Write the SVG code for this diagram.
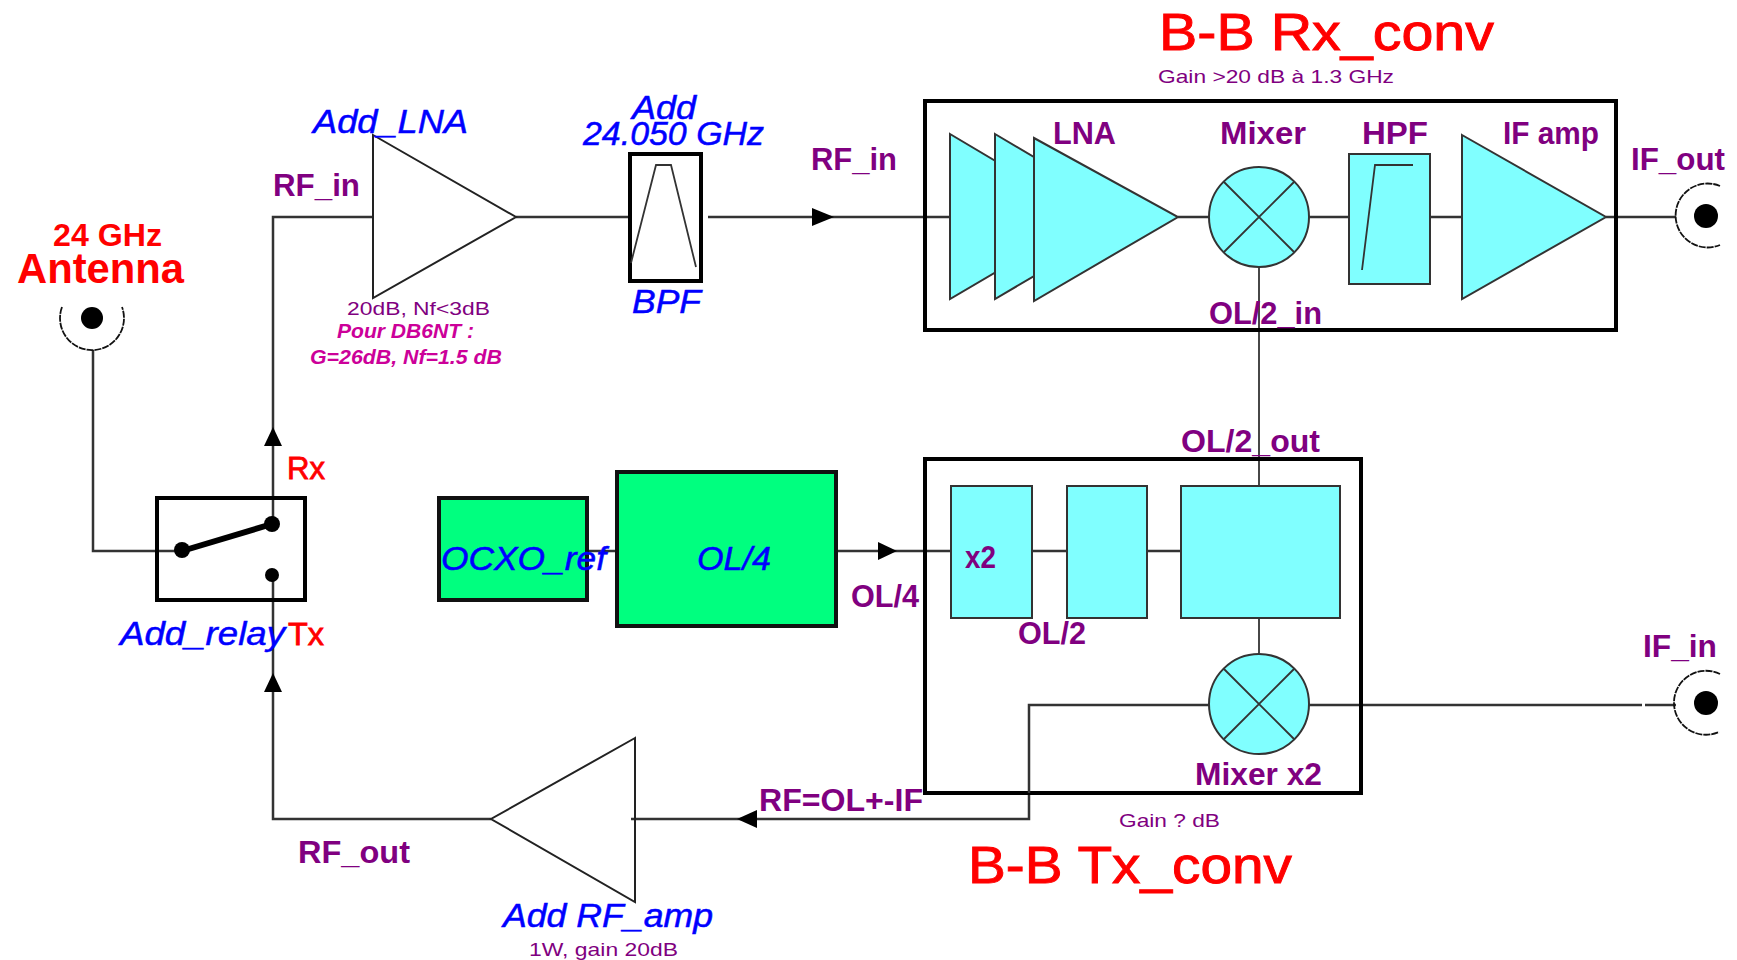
<svg xmlns="http://www.w3.org/2000/svg" width="1737" height="960" viewBox="0 0 1737 960">
<style>
text{font-family:"Liberation Sans",Arial,sans-serif;white-space:pre}
.p{fill:#800080;font-size:31px;font-weight:bold}
.s{fill:#800080;font-size:19px}
.b{fill:#0000ff;font-size:34px;font-style:italic;stroke:#0000ff;stroke-width:.5}
.r{fill:#ff0000;font-weight:bold}
.h{fill:#ff0000;stroke:#ff0000;stroke-width:.9;font-size:52px}
.m{fill:#ff0000;stroke:#ff0000;stroke-width:.8;font-size:31px}
.k{fill:#cc0099;font-size:21px;font-weight:bold;font-style:italic}
.w{fill:none;stroke:#333;stroke-width:2.5}
.t{fill:none;stroke:#333;stroke-width:1.8}
.c{fill:#80ffff;stroke:#333;stroke-width:2}
.n{fill:none;stroke:#222;stroke-width:2}
.box{fill:none;stroke:#000;stroke-width:4}
.g{fill:#00ff7f;stroke:#111;stroke-width:4}
.d{fill:#000;stroke:none}
.a{fill:none;stroke:#111;stroke-width:1.8;stroke-dasharray:7 1}
</style>
<rect width="1737" height="960" fill="#fff"/>
<g id="connectors">
<path class="w" d="M93 350V551H182"/>
<path class="w" d="M273 524V217H373"/>
<path class="w" d="M273 575V819H491"/>
<path class="w" d="M516 217H629"/>
<path class="w" d="M708 217H950"/>
<path class="w" d="M1178 217H1209M1309 217H1349M1430 217H1462M1606 217H1676"/>
<path class="t" d="M1259 267V485"/>
<path class="w" d="M587 551H617"/>
<path class="w" d="M836 551H951"/>
<path class="w" d="M1030 551H1067M1147 551H1181"/>
<path class="t" d="M1259 616V653"/>
<path class="w" d="M1029 793V819H631"/>
<path class="w" d="M1309 705H1642M1645 705H1676"/>
<polygon class="d" points="273,427 282,446 264,446"/>
<polygon class="d" points="273,673 282,692 264,692"/>
<polygon class="d" points="834,217 812,208 812,226"/>
<polygon class="d" points="897,551 878,542 878,560"/>
<polygon class="d" points="737,819 757,810 757,828"/>
</g>
<g id="antenna">
<path class="a" d="M62 307A32 32 0 1 0 122 307"/>
<circle class="d" cx="92" cy="318" r="11"/>
<text class="r" style="font-size:32px" x="53" y="246" textLength="109" lengthAdjust="spacingAndGlyphs">24 GHz</text>
<text class="r" style="font-size:42px" x="17" y="283" textLength="167" lengthAdjust="spacingAndGlyphs">Antenna</text>
</g>
<g id="relay">
<rect class="box" x="157" y="498" width="148" height="102"/>
<path d="M182 551L272 524" fill="none" stroke="#000" stroke-width="6"/>
<circle class="d" cx="182" cy="550" r="8"/>
<circle class="d" cx="272" cy="524" r="8"/>
<circle class="d" cx="272" cy="575" r="7"/>
<text class="b" x="120" y="645" textLength="165" lengthAdjust="spacingAndGlyphs">Add_relay</text>
<text class="m" x="287" y="479" textLength="38" lengthAdjust="spacingAndGlyphs">Rx</text>
<text class="m" x="288" y="645" textLength="36" lengthAdjust="spacingAndGlyphs">Tx</text>
</g>
<g id="add-lna">
<polygon class="n" points="373,135 516,217 373,298"/>
<text class="b" x="313" y="133" textLength="155" lengthAdjust="spacingAndGlyphs">Add_LNA</text>
<text class="s" x="347" y="315" textLength="143" lengthAdjust="spacingAndGlyphs">20dB, Nf&lt;3dB</text>
<text class="k" x="337" y="338" textLength="137" lengthAdjust="spacingAndGlyphs">Pour DB6NT :</text>
<text class="k" x="310" y="364" textLength="192" lengthAdjust="spacingAndGlyphs">G=26dB, Nf=1.5 dB</text>
</g>
<g id="bpf">
<rect class="box" x="630" y="154" width="71" height="127"/>
<path class="t" d="M631 263L656 165H671L696 267"/>
<text class="b" x="632" y="119" textLength="64" lengthAdjust="spacingAndGlyphs">Add</text>
<text class="b" x="583" y="145" textLength="181" lengthAdjust="spacingAndGlyphs">24.050 GHz</text>
<text class="b" x="632" y="313" textLength="69" lengthAdjust="spacingAndGlyphs">BPF</text>
</g>
<g id="rx-conv">
<rect class="box" x="925" y="101" width="691" height="229"/>
<polygon class="c" points="950,134 1090,217 950,299"/>
<polygon class="c" points="995,134 1135,217 995,299"/>
<polygon class="c" points="1034,138 1178,217 1034,301"/>
<circle class="c" cx="1259" cy="217" r="50"/>
<path class="t" d="M1224 182L1294 252M1294 182L1224 252"/>
<rect class="c" x="1349" y="154" width="81" height="130"/>
<path class="t" d="M1362 270L1375 165H1413"/>
<polygon class="c" points="1462,135 1606,217 1462,299"/>
<text class="p" x="1053" y="144" textLength="63" lengthAdjust="spacingAndGlyphs">LNA</text>
<text class="p" x="1220" y="144" textLength="86" lengthAdjust="spacingAndGlyphs">Mixer</text>
<text class="p" x="1362" y="144" textLength="66" lengthAdjust="spacingAndGlyphs">HPF</text>
<text class="p" x="1503" y="144" textLength="96" lengthAdjust="spacingAndGlyphs">IF amp</text>
<text class="p" x="1209" y="324" textLength="113" lengthAdjust="spacingAndGlyphs">OL/2_in</text>
<text class="h" x="1159" y="50" textLength="335" lengthAdjust="spacingAndGlyphs">B-B Rx_conv</text>
<text class="s" x="1158" y="83" textLength="236" lengthAdjust="spacingAndGlyphs">Gain &gt;20 dB à 1.3 GHz</text>
</g>
<g id="if-out">
<path class="a" d="M1720 186A32 32 0 1 0 1720 245"/>
<circle class="d" cx="1706" cy="216" r="12"/>
<text class="p" x="1631" y="170" textLength="94" lengthAdjust="spacingAndGlyphs">IF_out</text>
</g>
<g id="rf-labels">
<text class="p" x="273" y="196" textLength="87" lengthAdjust="spacingAndGlyphs">RF_in</text>
<text class="p" x="811" y="170" textLength="86" lengthAdjust="spacingAndGlyphs">RF_in</text>
<text class="p" x="298" y="863" textLength="112" lengthAdjust="spacingAndGlyphs">RF_out</text>
<text class="p" x="851" y="607" textLength="68" lengthAdjust="spacingAndGlyphs">OL/4</text>
<text class="p" x="759" y="811" textLength="164" lengthAdjust="spacingAndGlyphs">RF=OL+-IF</text>
</g>
<g id="ocxo">
<rect class="g" x="439" y="498" width="148" height="102"/>
<text class="b" x="441" y="570" textLength="165" lengthAdjust="spacingAndGlyphs">OCXO_ref</text>
</g>
<g id="ol4">
<rect class="g" x="617" y="472" width="219" height="154"/>
<text class="b" x="697" y="570" textLength="74" lengthAdjust="spacingAndGlyphs">OL/4</text>
</g>
<g id="tx-conv">
<rect class="box" x="925" y="459" width="436" height="334"/>
<rect class="c" x="951" y="486" width="81" height="132"/>
<rect class="c" x="1067" y="486" width="80" height="132"/>
<rect class="c" x="1181" y="486" width="159" height="132"/>
<path class="w" d="M1209 705H1029V793"/>
<circle class="c" cx="1259" cy="704" r="50"/>
<path class="t" d="M1224 669L1294 739M1294 669L1224 739"/>
<text class="p" x="965" y="568" textLength="31" lengthAdjust="spacingAndGlyphs">x2</text>
<text class="p" x="1018" y="644" textLength="68" lengthAdjust="spacingAndGlyphs">OL/2</text>
<text class="p" x="1181" y="452" textLength="139" lengthAdjust="spacingAndGlyphs">OL/2_out</text>
<text class="p" x="1195" y="785" textLength="127" lengthAdjust="spacingAndGlyphs">Mixer x2</text>
<text class="s" x="1119" y="827" textLength="101" lengthAdjust="spacingAndGlyphs">Gain ? dB</text>
<text class="h" x="968" y="883" textLength="324" lengthAdjust="spacingAndGlyphs">B-B Tx_conv</text>
</g>
<g id="if-in">
<path class="a" d="M1720 674A32 32 0 1 0 1719 732"/>
<circle class="d" cx="1706" cy="703" r="12"/>
<text class="p" x="1643" y="657" textLength="74" lengthAdjust="spacingAndGlyphs">IF_in</text>
</g>
<g id="add-rf-amp">
<polygon class="n" points="635,738 491,819 635,902"/>
<text class="b" x="503" y="927" textLength="210" lengthAdjust="spacingAndGlyphs">Add RF_amp</text>
<text class="s" x="529" y="956" textLength="149" lengthAdjust="spacingAndGlyphs">1W, gain 20dB</text>
</g>
</svg>
